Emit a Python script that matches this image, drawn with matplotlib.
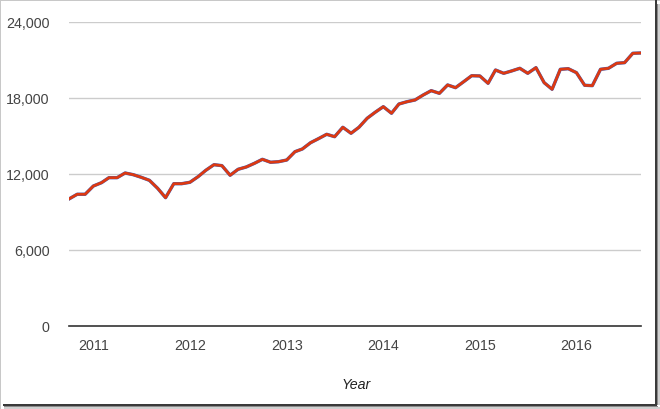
import matplotlib
matplotlib.use("Agg")
import matplotlib.pyplot as plt
from matplotlib.patches import Rectangle
import pandas as pd

start_month = "2010-10-01"
values = [10030, 10400, 10400, 11050, 11315, 11710, 11710, 12080, 11945, 11740,
          11500, 10870, 10130, 11235, 11235, 11345, 11790, 12290, 12735, 12660,
          11900, 12370, 12555, 12845, 13160, 12925, 12970, 13105, 13760, 13975,
          14470, 14790, 15135, 14945, 15690, 15215, 15690, 16400, 16870, 17315,
          16795, 17525, 17710, 17845, 18240, 18580, 18370, 19030, 18815, 19290,
          19760, 19740, 19160, 20210, 19950, 20135, 20345, 19950, 20395, 19210,
          18690, 20265, 20315, 20000, 19005, 18975, 20265, 20345, 20740, 20790,
          21530, 21555]
values_b = list(values)
year_ticks = ["2011", "2012", "2013", "2014", "2015", "2016"]
y_ticks = [0, 6000, 12000, 18000, 24000]
y_labels = ["0", "6,000", "12,000", "18,000", "24,000"]
x_title = "Year"

dates = pd.date_range(start_month, periods=len(values), freq="MS")

plt.rcParams['font.family'] = ['Liberation Sans', 'DejaVu Sans']

W, H = 660, 409
fig = plt.figure(figsize=(W / 100, H / 100), dpi=100)
fig.patch.set_facecolor("white")

left, right, top, bottom = 69, 641, 22, 326
ax = fig.add_axes([left / W, 1 - bottom / H, (right - left) / W, (bottom - top) / H])

ax.plot(dates, values_b, color="#3366cc", lw=2.4, solid_joinstyle="round", zorder=3)
ax.plot(dates, values, color="#dc3912", lw=2.0, solid_joinstyle="round", zorder=4)

ax.set_xlim(dates[0], dates[-1])
ax.set_ylim(0, 24000)
ax.set_yticks(y_ticks)
ax.set_yticklabels(y_labels)
ax.set_xticks([pd.Timestamp(y + "-01-01") for y in year_ticks])
ax.set_xticklabels(year_ticks)

for yv in y_ticks[1:]:
    ax.axhline(yv, color="#cccccc", lw=1, zorder=1)
ax.axhline(0, color="#333333", lw=1.2, zorder=5, clip_on=False)

for s in ax.spines.values():
    s.set_visible(False)
ax.tick_params(axis="both", length=0, labelsize=10.3, labelcolor="#444444")
ax.tick_params(axis="y", pad=14)
ax.tick_params(axis="x", pad=9)

fig.text(356 / W, 1 - 385 / H, x_title, ha="center", va="center", fontsize=10.3,
         style="italic", color="#222222")

# screenshot frame
fig.add_artist(Rectangle((0, 0), 1 / W, 1, transform=fig.transFigure, color="#c8c8c8", lw=0))
fig.add_artist(Rectangle((0, 1 - 1 / H), 1, 1 / H, transform=fig.transFigure, color="#c8c8c8", lw=0))
# right shadow
fig.add_artist(Rectangle((655 / W, 4 / H), 2 / W, 1 - 4 / H, transform=fig.transFigure, color="#3a3a3a", lw=0))
fig.add_artist(Rectangle((657 / W, 4 / H), 1 / W, 1 - 8 / H, transform=fig.transFigure, color="#8a8a8a", lw=0))
fig.add_artist(Rectangle((658 / W, 4 / H), 2 / W, 1 - 8 / H, transform=fig.transFigure, color="#d0d0d0", lw=0))
# bottom shadow
fig.add_artist(Rectangle((3 / W, 1 - 406 / H), 654 / W, 2 / H, transform=fig.transFigure, color="#3a3a3a", lw=0))
fig.add_artist(Rectangle((4 / W, 1 - 407 / H), 654 / W, 1 / H, transform=fig.transFigure, color="#8a8a8a", lw=0))
fig.add_artist(Rectangle((4 / W, 0), 656 / W, 2 / H, transform=fig.transFigure, color="#d0d0d0", lw=0))

fig.savefig("out.png", dpi=100)
